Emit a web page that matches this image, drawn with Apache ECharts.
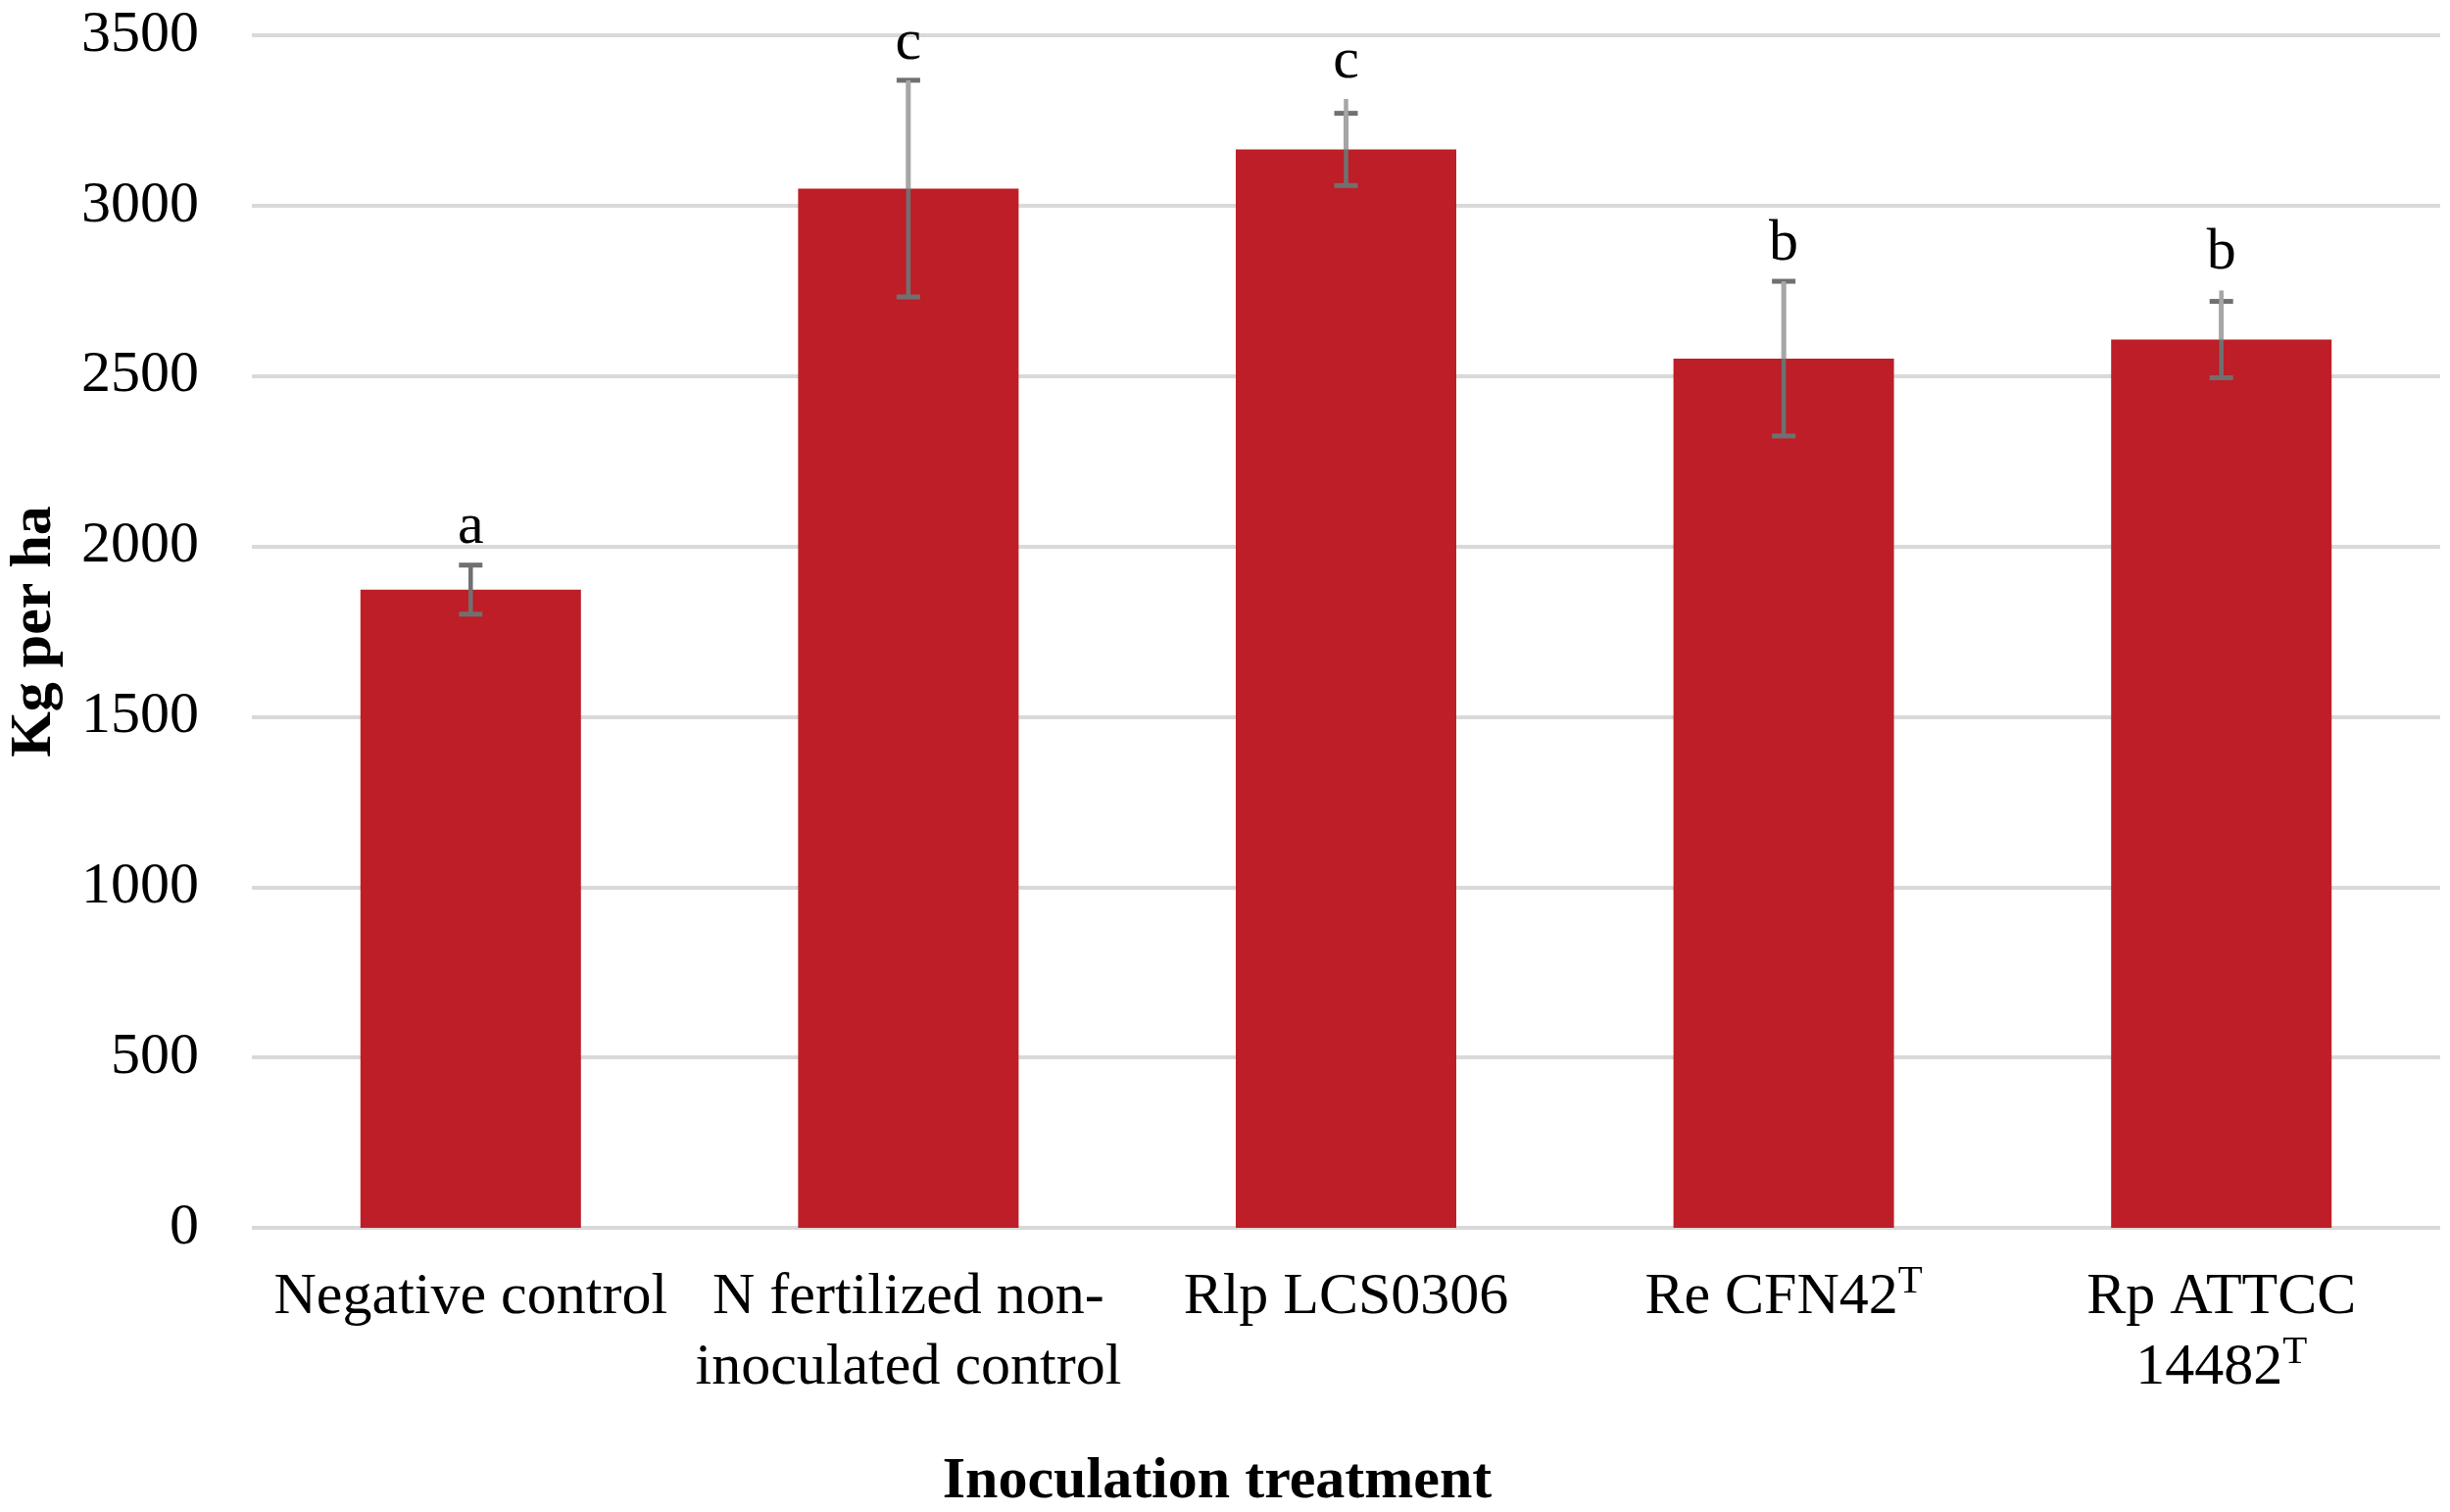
<!DOCTYPE html>
<html>
<head>
<meta charset="utf-8">
<script src="https://cdn.jsdelivr.net/npm/echarts@6/dist/echarts.min.js"></script>
<style>
html,body{margin:0;padding:0;background:#fff;}
#chart{width:2500px;height:1543px;}
</style>
</head>
<body>
<div id="chart"></div>
<script>
// ---- data ----
const categories = [
  'Negative control',
  'N fertilized non-\ninoculated control',
  'Rlp LCS0306',
  'Re CFN42{sup|T}',
  'Rp ATTCC\n14482{sup|T}'
];
const yieldKg = [1873, 3050, 3165, 2551, 2607];
const errBar = [72, 318, 106, 227, 112];
const errUpperLine = [0, 318, 148, 227, 144];
const letters = ['a', 'c', 'c', 'b', 'b'];
const yTicks = { min: 0, max: 3500, interval: 500 };
const yTitle = 'Kg per ha';
const xTitle = 'Inoculation treatment';

const FONT = '"Liberation Serif", "Times New Roman", serif';

const chart = echarts.init(document.getElementById('chart'));
const errData = yieldKg.map((v, i) => [i, v, errBar[i], errUpperLine[i]]);

chart.setOption({
  animation: false,
  backgroundColor: '#ffffff',
  grid: { left: 257, right: 10, top: 36, bottom: 290, containLabel: false, outerBoundsMode: 'none' },
  graphic: [{
    type: 'text', x: 1242, y: 1512,
    style: { text: xTitle, font: 'bold 60px ' + FONT, fill: '#000', textAlign: 'center', textVerticalAlign: 'middle' }
  }],
  xAxis: {
    type: 'category',
    data: categories,
    axisLine: { show: false },
    axisTick: { show: false },
    axisLabel: {
      interval: 0,
      margin: 35,
      fontFamily: FONT,
      fontSize: 60,
      lineHeight: 72,
      color: '#000',
      rich: {
        sup: { fontFamily: FONT, fontSize: 41, lineHeight: 40, verticalAlign: 'top', color: '#000' }
      }
    }
  },
  yAxis: {
    type: 'value',
    min: yTicks.min, max: yTicks.max, interval: yTicks.interval,
    name: yTitle,
    nameLocation: 'middle',
    nameGap: 192,
    nameTextStyle: { fontFamily: FONT, fontSize: 60, fontWeight: 'bold', color: '#000' },
    axisLine: { show: false },
    axisTick: { show: false },
    axisLabel: { margin: 54, fontFamily: FONT, fontSize: 60, color: '#000', formatter: function (v) { return String(v); } },
    splitLine: { show: true, lineStyle: { color: '#d9d9d9', width: 4 } }
  },
  series: [
    {
      type: 'bar',
      data: yieldKg,
      barWidth: 225,
      itemStyle: { color: '#be1e27' },
      z: 2
    },
    {
      type: 'custom',
      data: errData,
      z: 5,
      renderItem: function (params, api) {
        const i = api.value(0), v = api.value(1), e = api.value(2), l = api.value(3);
        const top = api.coord([i, v + e]);
        const bot = api.coord([i, v - e]);
        const barTop = api.coord([i, v]);
        const lightTop = api.coord([i, v + l]);
        const x = top[0];
        const cap = 12;
        const children = [
          { type: 'line', shape: { x1: x, y1: bot[1], x2: x, y2: top[1] }, style: { stroke: '#707070', lineWidth: 4.5 } },
          { type: 'line', shape: { x1: x - cap, y1: top[1], x2: x + cap, y2: top[1] }, style: { stroke: '#707070', lineWidth: 5 } },
          { type: 'line', shape: { x1: x - cap, y1: bot[1], x2: x + cap, y2: bot[1] }, style: { stroke: '#707070', lineWidth: 5 } }
        ];
        if (l > 0) {
          children.push({ type: 'line', shape: { x1: x, y1: barTop[1], x2: x, y2: lightTop[1] }, style: { stroke: '#a6a6a6', lineWidth: 4.5 } });
        }
        const yTop = Math.min(top[1], lightTop[1]);
        children.push({
          type: 'text', x: x, y: yTop - 8,
          style: { text: letters[params.dataIndex], font: '60px ' + FONT, fill: '#000', textAlign: 'center', textVerticalAlign: 'bottom' }
        });
        return { type: 'group', children: children };
      }
    }
  ]
});
</script>
</body>
</html>
